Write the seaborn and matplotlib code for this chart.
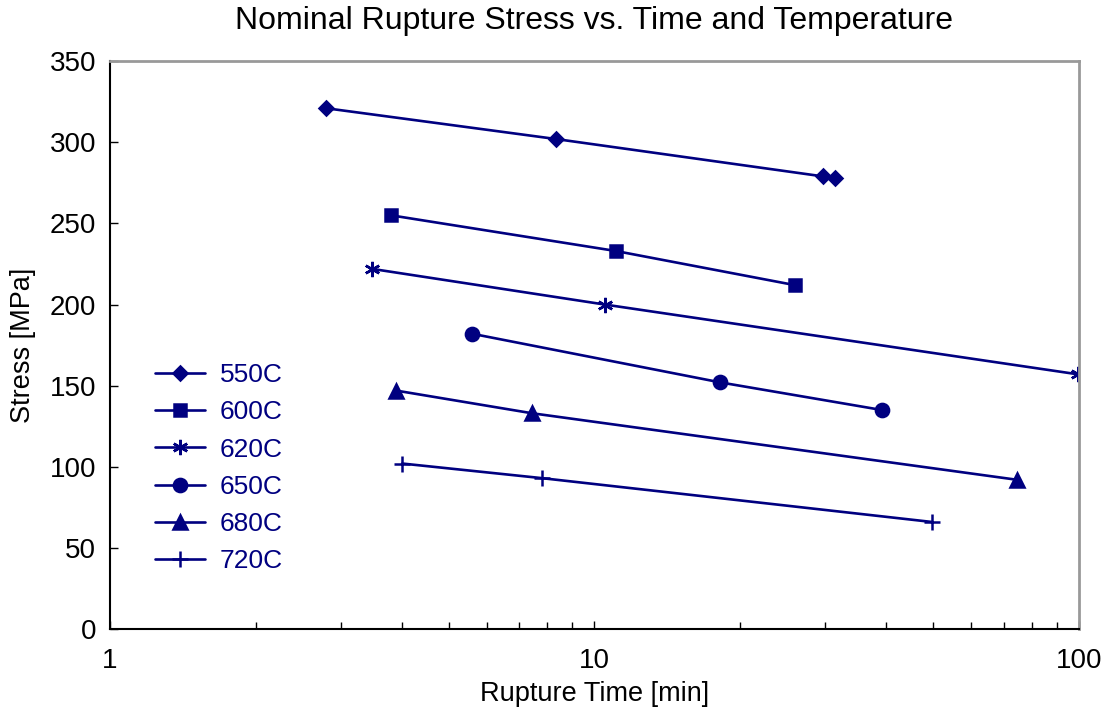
import matplotlib
matplotlib.use("Agg")
import matplotlib.pyplot as plt
import seaborn as sns
import pandas as pd
from matplotlib.ticker import LogLocator, NullFormatter, FixedLocator

temps = ["550C", "600C", "620C", "650C", "680C", "720C"]
time_550 = [2.79, 8.33, 29.6, 31.4]
stress_550 = [321, 302, 279, 278]
time_600 = [3.80, 11.07, 25.9]
stress_600 = [255, 233, 212]
time_620 = [3.47, 10.5, 99.5]
stress_620 = [222, 200, 157]
time_650 = [5.59, 18.2, 39.2]
stress_650 = [182, 152, 135]
time_680 = [3.89, 7.43, 74.5]
stress_680 = [147, 133, 92]
time_720 = [4.01, 7.79, 49.7]
stress_720 = [102, 93, 66]

times = [time_550, time_600, time_620, time_650, time_680, time_720]
stresses = [stress_550, stress_600, stress_620, stress_650, stress_680, stress_720]

rows = []
for t, xs, ys in zip(temps, times, stresses):
    for x, y in zip(xs, ys):
        rows.append({"Temp": t, "Time": x, "Stress": y})
df = pd.DataFrame(rows)

sns.set_theme(style="white")
plt.rcParams['font.family'] = ['Liberation Sans', 'DejaVu Sans']
plt.rcParams['text.color'] = 'black'
plt.rcParams['axes.labelcolor'] = 'black'

navy = "#000080"
fig = plt.figure(figsize=(11.03, 7.11), dpi=100)
ax = fig.add_axes([0.0997, 0.1153, 0.8783, 0.7987])

markers = {"550C": "D", "600C": "s", "620C": (6, 2, 0), "650C": "o", "680C": "^", "720C": "+"}
sizes_m = {"550C": 7.5, "600C": 8.5, "620C": 11, "650C": 9.5, "680C": 9.5, "720C": 12}

for t in temps:
    sub = df[df["Temp"] == t]
    sns.lineplot(data=sub, x="Time", y="Stress", ax=ax, color=navy, marker=markers[t],
                 markersize=sizes_m[t], markeredgecolor=navy, markerfacecolor=navy,
                 markeredgewidth=1.8, linewidth=1.9, label=t, sort=False, estimator=None)

ax.set_xscale("log")
ax.set_xlim(1, 100)
ax.set_ylim(0, 350)
ax.yaxis.set_major_locator(FixedLocator(list(range(0, 351, 50))))
ax.xaxis.set_major_locator(FixedLocator([1, 10, 100]))
ax.set_xticklabels(["1", "10", "100"])
ax.xaxis.set_minor_locator(LogLocator(base=10, subs=range(2, 10)))
ax.xaxis.set_minor_formatter(NullFormatter())
ax.tick_params(axis="both", which="both", direction="in", labelsize=20, colors="black",
               left=True, bottom=True)
ax.tick_params(axis="y", which="major", length=6, width=1, pad=10)
ax.tick_params(axis="x", which="major", length=6, width=1, pad=14)
ax.tick_params(axis="x", which="minor", length=5, width=1)

for s in ["left", "bottom"]:
    ax.spines[s].set_color("black")
    ax.spines[s].set_linewidth(1.5)
for s in ["top", "right"]:
    ax.spines[s].set_color("#999999")
    ax.spines[s].set_linewidth(2)
    ax.spines[s].set_visible(True)

ax.set_xlabel("Rupture Time [min]", fontsize=19.5, labelpad=5)
ax.set_ylabel("Stress [MPa]", fontsize=19.5, labelpad=10)
ax.set_title("Nominal Rupture Stress vs. Time and Temperature", fontsize=23, pad=23)

leg = ax.legend(loc="upper left", bbox_to_anchor=(0.022, 0.51), frameon=False,
                fontsize=19, handlelength=1.9, labelspacing=0.5, handletextpad=0.55)
for txt in leg.get_texts():
    txt.set_color(navy)

fig.savefig("out.png", dpi=100)
